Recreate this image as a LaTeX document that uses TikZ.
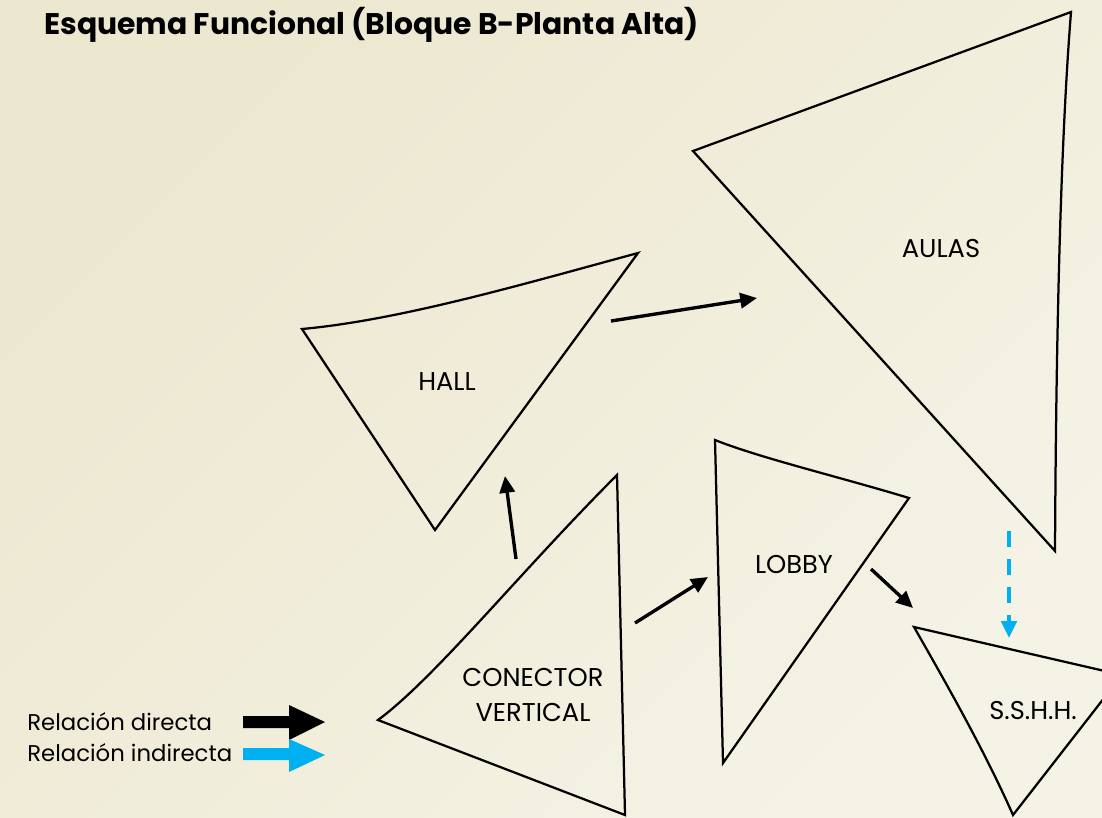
\documentclass[tikz,border=0pt]{standalone}
\usepackage{fontspec}
\setmainfont{Poppins}
\usetikzlibrary{arrows.meta,positioning}
\definecolor{bgdark}{HTML}{ECE7CF}
\definecolor{bglight}{HTML}{F5F3E6}
\definecolor{indirblue}{HTML}{00B0F0}

\begin{document}
\begin{tikzpicture}[x=0.025cm,y=-0.025cm,
  zone/.style={draw=black,line width=1.6pt},
  tag/.style={font=\fontsize{18.3}{24.8}\selectfont,align=center,inner sep=0pt},
  legtext/.style={font=\fontsize{16.2}{18}\selectfont,anchor=base west,inner sep=0pt},
  rel/.style={-{Triangle[length=4.2mm,width=3.8mm]},line width=2.4pt,draw=black},
  indrel/.style={rel,draw=indirblue,line width=2.8pt,dash pattern=on 4mm off 3mm}
]
\useasboundingbox (0,0) rectangle (1102,817);
\shade[top color=bgdark,bottom color=bglight,shading angle=45] (0,0) rectangle (1102,817);

\node[font=\bfseries\fontsize{21.2}{24}\selectfont,anchor=base west,inner sep=0pt]
  (title) at (44,34) {Esquema Funcional (Bloque B-Planta Alta)};

% zonas
\begin{scope}
\clip (0,0) rectangle (1102,817);
\draw[zone] (693,151) -- (1071,12) .. controls (1060,150) and (1056,350) .. (1055,551) -- cycle;
\draw[zone] (302,329) .. controls (400,320) and (520,285) .. (638,253) -- (435,530) -- cycle;
\draw[zone] (378,720) .. controls (435,678) and (520,572) .. (617,475) -- (625,815) -- cycle;
\draw[zone] (715,440) .. controls (760,458) and (840,477) .. (909,498) -- (723,763) -- cycle;
\draw[zone] (914,627) -- (1122,675) -- (1013,815) .. controls (985,752) and (950,690) .. cycle;
\end{scope}

\node[tag] (aulas) at (941,248) {AULAS};
\node[tag] (hall) at (447,382) {HALL};
\node[tag] (lobby) at (794,565) {LOBBY};
\node[tag] (conector) at (533,695) {CONECTOR\\VERTICAL};
\node[tag] (sshh) at (1033,710) {S.S.H.H.};

% relaciones
\coordinate (hall-out) at (611,321);
\coordinate (aulas-in) at (757,298);
\coordinate (con-up) at (516,559);
\coordinate (hall-in) at (505,476);
\coordinate (con-right) at (635,623);
\coordinate (lobby-in) at (708,577);
\coordinate (lobby-out) at (871,569);
\coordinate (sshh-in) at (913,608);
\coordinate (aulas-out) at (1009,531);
\coordinate (sshh-top) at (1009,638);
\draw[rel] (hall-out) -- (aulas-in);
\draw[rel] (con-up) -- (hall-in);
\draw[rel] (con-right) -- (lobby-in);
\draw[rel] (lobby-out) -- (sshh-in);
\draw[indrel] (aulas-out) -- (sshh-top);

% leyenda
\node[legtext] (dirtext) at (27,730) {Relación directa};
\node[legtext] (indirtext) at (27,761) {Relación indirecta};
\fill[black] (243,716) -- (289,716) -- (289,705) -- (325,722) -- (289,740)
  -- (289,728) -- (243,728) -- cycle;
\fill[indirblue] (243,748) -- (289,748) -- (289,739) -- (325,755) -- (289,772)
  -- (289,760) -- (243,760) -- cycle;
\end{tikzpicture}
\end{document}
